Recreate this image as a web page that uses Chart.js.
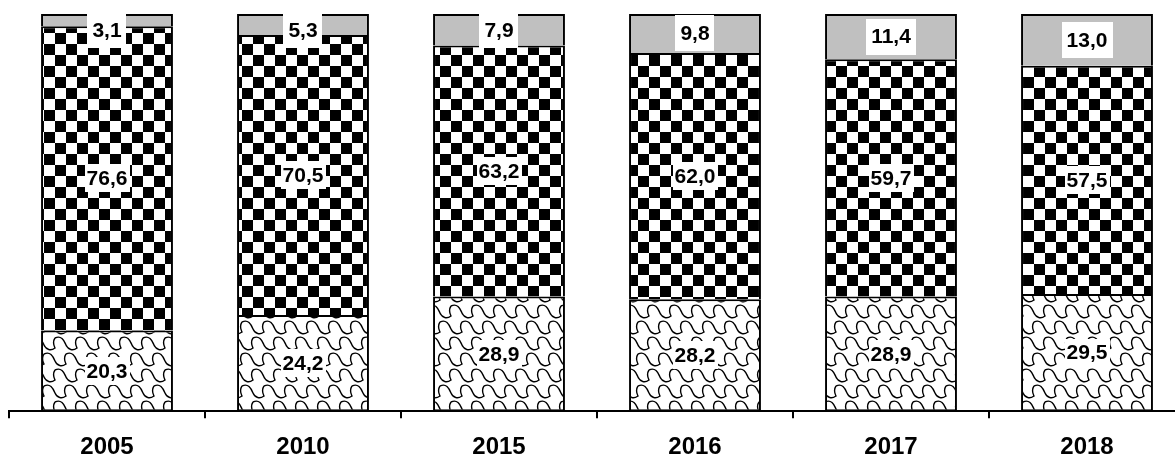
<!DOCTYPE html>
<html lang="en">
<head>
    <meta charset="UTF-8">
    <title>Stacked shares 2005-2018</title>
    <script src="https://cdn.jsdelivr.net/npm/chart.js"></script>
    <style>
        body { margin: 0; background: #fff; overflow: hidden; }
        #wrap { width: 1185px; height: 459px; overflow: hidden; }
    </style>
</head>
<body>
    <div id="wrap"><canvas id="shareChart" width="1185" height="477"></canvas></div>

    <script>
        // data
        const years = ["2005", "2010", "2015", "2016", "2017", "2018"];
        const bottomShare = [20.3, 24.2, 28.9, 28.2, 28.9, 29.5];
        const middleShare = [76.6, 70.5, 63.2, 62.0, 59.7, 57.5];
        const topShare = [3.1, 5.3, 7.9, 9.8, 11.4, 13.0];

        // checkerboard fill
        function makeChecker(ctx) {
            let c = document.createElement("canvas");
            c.width = 22; c.height = 22;
            let g = c.getContext("2d");
            g.fillStyle = "#fff";
            g.fillRect(0, 0, 22, 22);
            g.fillStyle = "#000";
            g.fillRect(0, 0, 11, 11);
            g.fillRect(11, 11, 11, 11);
            return ctx.createPattern(c, "repeat");
        }

        // tilted wavy rows, every other row shifted half a period
        function makeWave(ctx) {
            let w = 22, h = 32;
            let c = document.createElement("canvas");
            c.width = w; c.height = h;
            let g = c.getContext("2d");
            g.fillStyle = "#fff";
            g.fillRect(0, 0, w, h);
            g.strokeStyle = "#000";
            g.lineWidth = 1.4;
            for (let ox = -w; ox <= w; ox += w) {
                for (let oy = -h; oy <= h; oy += h) {
                    [[0, 0], [11, 16]].forEach(([sx, sy]) => {
                        let x = ox + sx, y = oy + sy;
                        g.beginPath();
                        g.moveTo(x, y + 2);
                        g.bezierCurveTo(x + 6, y - 1, x + 9, y + 4, x + 11, y + 9);
                        g.bezierCurveTo(x + 13, y + 14, x + 18, y + 15, x + 22, y + 12);
                        g.bezierCurveTo(x + 20, y + 8, x + 20, y + 5, x + 22, y + 2);
                        g.stroke();
                    });
                }
            }
            return ctx.createPattern(c, "repeat");
        }

        // white boxed value labels in the middle of each segment
        const segmentLabels = {
            id: "segmentLabels",
            afterDatasetsDraw(chart) {
                let ctx = chart.ctx;
                ctx.save();
                ctx.font = "bold 21px Arial, 'Liberation Sans', sans-serif";
                ctx.textAlign = "center";
                ctx.textBaseline = "middle";
                chart.data.datasets.forEach((ds, i) => {
                    let meta = chart.getDatasetMeta(i);
                    let padX = i === 2 ? 5 : 2;
                    let padY = i === 2 ? 10 : 6;
                    meta.data.forEach((bar, j) => {
                        let p = bar.getProps(["x", "y", "base"], true);
                        let txt = ds.data[j].toFixed(1).replace(".", ",");
                        let bh = 16 + padY * 2;
                        let cy = (p.y + p.base) / 2;
                        // keep thin top segments' boxes from poking above the bar
                        if (cy - bh / 2 < chart.chartArea.top - 2) cy = chart.chartArea.top - 2 + bh / 2;
                        let tw = ctx.measureText(txt).width;
                        ctx.fillStyle = "#fff";
                        ctx.fillRect(Math.round(p.x - tw / 2 - padX), Math.round(cy - bh / 2), Math.round(tw + padX * 2), bh);
                        ctx.fillStyle = "#000";
                        ctx.fillText(txt, p.x, cy + 1);
                    });
                });
                ctx.restore();
            }
        };

        let ctx = document.getElementById("shareChart").getContext("2d");
        let barOpts = { borderColor: "#000", borderWidth: 2, barPercentage: 0.673, categoryPercentage: 1.0 };

        new Chart(ctx, {
            type: "bar",
            data: {
                labels: years,
                datasets: [
                    Object.assign({ label: "bottom", data: bottomShare, backgroundColor: makeWave(ctx), borderSkipped: false }, barOpts),
                    Object.assign({ label: "middle", data: middleShare, backgroundColor: makeChecker(ctx), borderSkipped: "start" }, barOpts),
                    Object.assign({ label: "top", data: topShare, backgroundColor: "#c0c0c0", borderSkipped: "start" }, barOpts)
                ]
            },
            options: {
                responsive: false,
                animation: false,
                devicePixelRatio: 1,
                layout: { padding: { left: 9, right: 0, top: 14, bottom: 0 } },
                plugins: { legend: { display: false }, tooltip: { enabled: false } },
                scales: {
                    x: {
                        stacked: true,
                        grid: { display: true, drawOnChartArea: false, drawTicks: true, tickLength: 7, color: "#000", lineWidth: 2 },
                        border: { display: true, color: "#000", width: 2 },
                        ticks: { color: "#000", padding: 15, font: { family: "Arial, 'Liberation Sans', sans-serif", size: 24, weight: "bold" } }
                    },
                    y: { stacked: true, display: false, min: 0, max: 100 }
                }
            },
            plugins: [segmentLabels]
        });
    </script>
</body>
</html>
